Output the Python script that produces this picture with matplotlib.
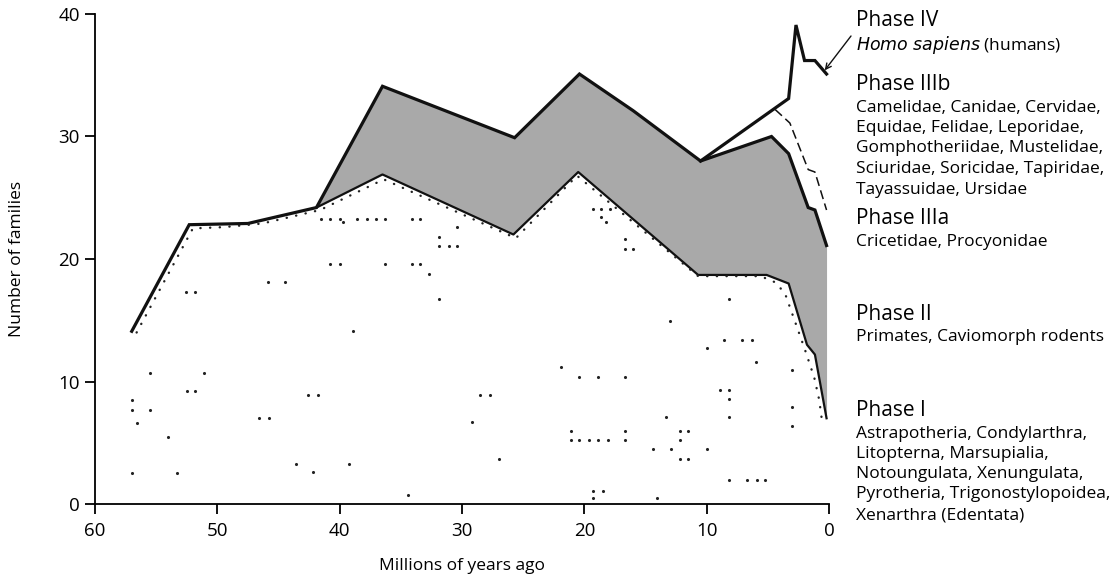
import numpy as np
import matplotlib.pyplot as plt

plt.rcParams['font.family'] = ['Open Sans', 'DejaVu Sans']

# Total families up to the split (~42 Myr) and top edge of the shaded band
upper_age = [57.0, 52.3, 47.5, 41.9, 36.5, 25.7, 20.4, 16.0, 10.5, 4.7, 3.3, 1.7, 1.15, 0.2]
upper_count = [14.1, 22.8, 22.9, 24.2, 34.1, 29.9, 35.1, 32.1, 28.0, 30.0, 28.6, 24.2, 24.0, 21.1]

# Line including Homo sapiens (Phase IV)
human_age = [10.5, 3.3, 2.7, 2.0, 1.15, 0.2]
human_count = [28.0, 33.1, 39.1, 36.2, 36.2, 35.1]

# Dashed line
dashed_age = [4.4, 3.2, 1.7, 1.15, 0.2]
dashed_count = [32.2, 31.1, 27.3, 27.1, 24.0]

# Lower edge of the shaded band
lower_age = [41.9, 36.5, 25.8, 20.5, 10.7, 5.1, 3.3, 1.8, 1.15, 0.2]
lower_count = [24.2, 26.9, 22.0, 27.1, 18.7, 18.7, 18.0, 13.0, 12.2, 7.0]

# Dotted line just under the envelope
dotted_age = [56.6, 52.0, 49.5, 46.3, 41.6, 36.4, 25.6, 20.6, 10.7, 5.6, 4.4, 3.6, 2.0, 1.2, 0.8, 0.6]
dotted_count = [14.0, 22.5, 22.6, 22.9, 24.0, 26.5, 21.7, 26.8, 18.6, 18.6, 18.1, 17.2, 12.7, 10.3, 8.5, 7.0]

# Scattered record dots
dot_age = [57.0, 57.0, 56.6, 57.0, 55.5, 55.5, 54.0, 53.3, 52.6, 51.8, 52.5, 51.8, 51.1,
           46.6, 45.8, 45.9, 44.5, 43.6, 42.2, 42.6, 41.8, 39.2, 38.9,
           41.5, 40.8, 40.0, 38.6, 37.8, 37.0, 36.3, 34.1, 33.4, 39.7,
           40.8, 40.0, 36.3, 34.1, 33.4, 32.7, 31.9, 30.4, 31.9, 31.9, 31.1, 30.4,
           34.4, 28.5, 27.7, 29.2, 27.0, 21.9, 20.4, 18.9, 16.7, 21.1, 16.7,
           21.1, 20.4, 19.6, 18.9, 18.1, 16.7, 19.3, 18.6, 17.9, 18.6, 18.2,
           16.7, 16.7, 16.0, 19.3, 18.5, 19.3, 14.1, 13.3, 13.0, 14.4, 12.9,
           12.2, 11.5, 12.2, 12.2, 11.5, 10.0, 10.0, 8.9, 8.2, 8.2, 8.2, 8.2,
           8.6, 7.1, 6.3, 6.0, 3.0, 3.0, 3.0, 8.2, 6.7, 5.9, 5.2]
dot_count = [8.5, 7.7, 6.6, 2.5, 10.7, 7.7, 5.5, 2.5, 17.3, 17.3, 9.2, 9.2, 10.7,
             7.0, 7.0, 18.1, 18.1, 3.3, 2.6, 8.9, 8.9, 3.3, 14.1,
             23.3, 23.3, 23.3, 23.3, 23.3, 23.3, 23.3, 23.3, 23.3, 23.0,
             19.6, 19.6, 19.6, 19.6, 19.6, 18.8, 16.7, 22.6, 21.8, 21.1, 21.1, 21.1,
             0.7, 8.9, 8.9, 6.7, 3.7, 11.2, 10.4, 10.4, 10.4, 6.0, 6.0,
             5.2, 5.2, 5.2, 5.2, 5.2, 5.2, 24.1, 24.1, 24.1, 23.4, 23.0,
             21.6, 20.8, 20.8, 1.1, 1.1, 0.5, 0.5, 7.1, 14.9, 4.5, 4.5,
             6.0, 6.0, 5.2, 3.7, 3.7, 4.5, 12.7, 9.3, 9.3, 8.6, 7.1, 16.7,
             13.4, 13.4, 13.4, 11.6, 10.9, 7.9, 6.4, 2.0, 2.0, 2.0, 2.0]

fig = plt.figure(figsize=(11.18, 5.78), dpi=100)
ax = fig.add_axes([0.085, 0.128, 0.6565, 0.8478])

# shaded band between the lower line and the upper envelope
grid = np.unique(np.concatenate([upper_age[3:], lower_age]))
top = np.interp(grid, upper_age[::-1], upper_count[::-1])
bot = np.interp(grid, lower_age[::-1], lower_count[::-1])
ax.fill_between(grid, bot, top, color='#a9a9a9', lw=0)

ax.plot(upper_age, upper_count, color='#111111', lw=2.3, solid_joinstyle='miter')
ax.plot(human_age, human_count, color='#111111', lw=2.3, solid_joinstyle='miter')
ax.plot(lower_age, lower_count, color='#111111', lw=1.6)
ax.plot(dashed_age, dashed_count, color='#111111', lw=1.1, dashes=(6, 3))
ax.plot(dotted_age, dotted_count, color='#222222', lw=1.7, linestyle=(0, (0.1, 4)),
        dash_capstyle='round')
ax.scatter(dot_age, dot_count, s=5, color='#222222', lw=0)

ax.set_xlim(60, 0)
ax.set_ylim(0, 40)
ax.set_xticks([60, 50, 40, 30, 20, 10, 0])
ax.set_yticks([0, 10, 20, 30, 40])
for s in ['top', 'right']:
    ax.spines[s].set_visible(False)
for s in ['left', 'bottom']:
    ax.spines[s].set_linewidth(1.3)
ax.tick_params(direction='out', length=7, width=1.3, labelsize=13.5)
ax.tick_params(axis='x', pad=6)
ax.tick_params(axis='y', pad=4)
ax.set_xlabel('Millions of years ago', fontsize=12.5, labelpad=13)
ax.set_ylabel('Number of families', fontsize=12.5, labelpad=24)

# phase annotations on the right
W, H = 1118, 578
x0 = 856 / W
heads = [('Phase IV', 21), ('Phase IIIb', 84), ('Phase IIIa', 219),
         ('Phase II', 315), ('Phase I', 410)]
for txt, y in heads:
    fig.text(x0, 1 - y / H, txt, fontsize=15, va='center', ha='left')

body = [('Camelidae, Canidae, Cervidae,', 108), ('Equidae, Felidae, Leporidae,', 128),
        ('Gomphotheriidae, Mustelidae,', 148), ('Sciuridae, Soricidae, Tapiridae,', 169),
        ('Tayassuidae, Ursidae', 190), ('Cricetidae, Procyonidae', 242),
        ('Primates, Caviomorph rodents', 337), ('Astrapotheria, Condylarthra,', 434),
        ('Litopterna, Marsupialia,', 454), ('Notoungulata, Xenungulata,', 474),
        ('Pyrotheria, Trigonostylopoidea,', 494), ('Xenarthra (Edentata)', 516)]
for txt, y in body:
    fig.text(x0, 1 - y / H, txt, fontsize=12.5, va='center', ha='left')

fig.text(x0, 1 - 45 / H, r'$\it{Homo\ sapiens}$' + ' (humans)', fontsize=12.5,
         va='center', ha='left')

ax.annotate('', xy=(0.35, 35.4), xytext=(851 / W, 1 - 36 / H),
            textcoords='figure fraction',
            arrowprops=dict(arrowstyle='->', lw=1.0, color='#111111', shrinkA=0, shrinkB=0))

fig.savefig('out.png', dpi=100)
